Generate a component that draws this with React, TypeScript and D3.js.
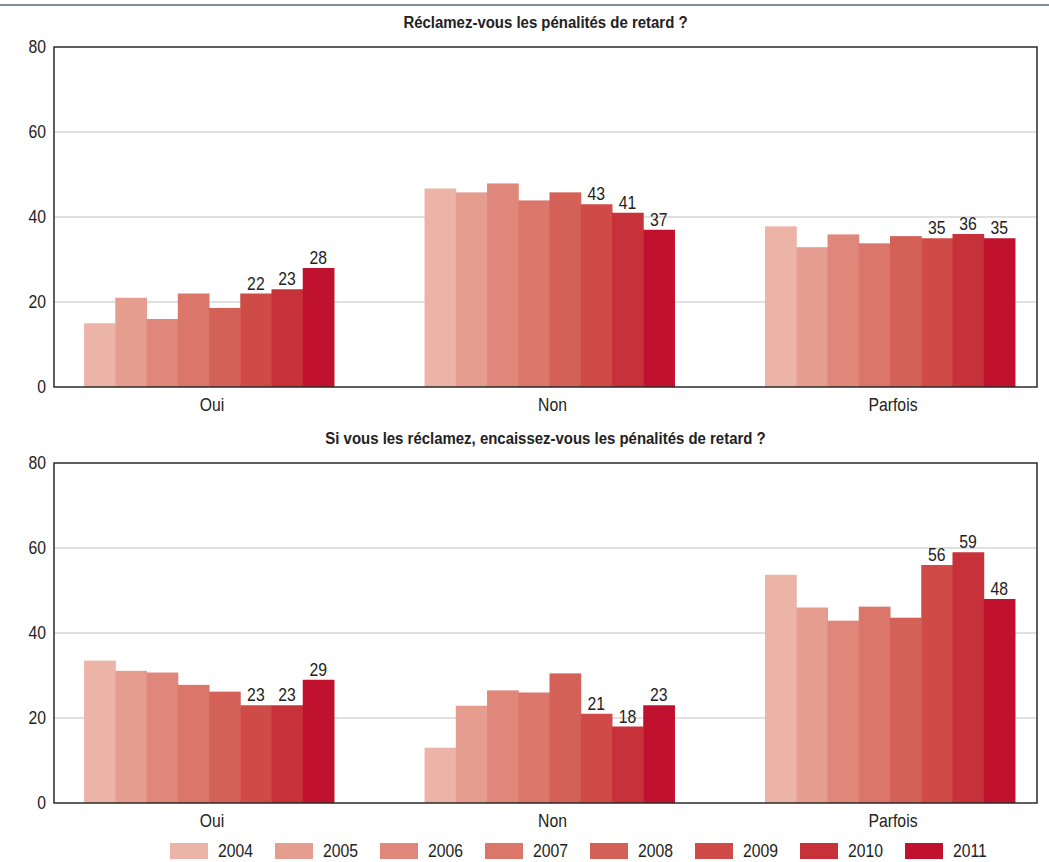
import React from "react";
import * as d3 from "d3";

// Survey years (one bar per year inside each answer group)
const years = ["2004", "2005", "2006", "2007", "2008", "2009", "2010", "2011"];
const yearColors = [
  "#ebb4a6",
  "#e59d8f",
  "#df877a",
  "#da766a",
  "#d46157",
  "#ce4b48",
  "#c6313a",
  "#c0122f",
];
const labelledYears = ["2009", "2010", "2011"];

// Answer categories
const answers = ["Oui", "Non", "Parfois"];

// Panel 1: "Réclamez-vous les pénalités de retard ?" (% by year)
const claimTitle = "Réclamez-vous les pénalités de retard ?";
const claimOui = [15, 21, 16, 22, 18.6, 22, 23, 28];
const claimNon = [46.7, 45.8, 47.9, 43.9, 45.8, 43, 41, 37];
const claimParfois = [37.8, 32.9, 35.9, 33.8, 35.5, 35, 36, 35];

// Panel 2: "Si vous les réclamez, encaissez-vous ..." (% by year)
const collectTitle =
  "Si vous les réclamez, encaissez-vous les pénalités de retard ?";
const collectOui = [33.5, 31.1, 30.7, 27.8, 26.2, 23, 23, 29];
const collectNon = [13, 22.9, 26.5, 26, 30.5, 21, 18, 23];
const collectParfois = [53.7, 46, 42.9, 46.2, 43.6, 56, 59, 48];

const yTicks = [0, 20, 40, 60, 80];

const FONT = "'Liberation Sans', Arial, sans-serif";
const CONDENSE = 0.875; // horizontal squeeze for a condensed look
const WIDTH = 1049;
const HEIGHT = 862;
const PLOT_LEFT = 54;
const PLOT_RIGHT = 1037;
const PANEL_HEIGHT = 340;

type LabelProps = {
  x: number;
  y: number;
  anchor?: "start" | "middle" | "end";
  size?: number;
  weight?: string;
  squeeze?: number;
  dy?: string;
  children: React.ReactNode;
};

// Condensed text: drawn at the anchor point, then squeezed horizontally
function Label({
  x,
  y,
  anchor = "start",
  size = 18,
  weight = "normal",
  squeeze = CONDENSE,
  dy,
  children,
}: LabelProps) {
  return (
    <text
      transform={`translate(${x},${y}) scale(${squeeze},1)`}
      textAnchor={anchor}
      dy={dy}
      fontFamily={FONT}
      fontSize={size}
      fontWeight={weight}
      fill="#222"
    >
      {children}
    </text>
  );
}

type PanelProps = {
  title: string;
  top: number;
  series: number[][];
};

function Panel({ title, top, series }: PanelProps) {
  const bottom = top + PANEL_HEIGHT;
  const y = d3.scaleLinear().domain([0, 80]).range([bottom, top]);
  const x0 = d3
    .scaleBand<string>()
    .domain(answers)
    .range([PLOT_LEFT, PLOT_RIGHT])
    .paddingInner(0.266)
    .paddingOuter(0.0765)
    .align(0.577);
  const x1 = d3
    .scaleBand<string>()
    .domain(years)
    .range([0, x0.bandwidth()])
    .padding(0);
  const fmt = d3.format(".0f");

  return (
    <g>
      <Label
        x={(PLOT_LEFT + PLOT_RIGHT) / 2}
        y={top - 19}
        anchor="middle"
        size={17}
        weight="bold"
        squeeze={0.88}
      >
        {title}
      </Label>
      {yTicks
        .filter((t) => t > 0 && t < 80)
        .map((t) => (
          <line
            key={`g${t}`}
            x1={PLOT_LEFT}
            x2={PLOT_RIGHT}
            y1={y(t)}
            y2={y(t)}
            stroke="#d6d6d6"
            strokeWidth={1.5}
          />
        ))}
      {yTicks.map((t) => (
        <Label key={`t${t}`} x={PLOT_LEFT - 8} y={y(t)} dy="0.35em" anchor="end">
          {t}
        </Label>
      ))}
      {answers.map((a, ai) => (
        <g key={a} transform={`translate(${x0(a)},0)`}>
          {years.map((yr, yi) => {
            const v = series[ai][yi];
            return (
              <rect
                key={yr}
                x={x1(yr)}
                y={y(v)}
                width={x1.bandwidth() + 0.5}
                height={bottom - y(v)}
                fill={yearColors[yi]}
              />
            );
          })}
          {years.map((yr, yi) =>
            labelledYears.includes(yr) ? (
              <Label
                key={`l${yr}`}
                x={(x1(yr) as number) + x1.bandwidth() / 2}
                y={y(series[ai][yi]) - 4}
                anchor="middle"
              >
                {fmt(series[ai][yi])}
              </Label>
            ) : null
          )}
          <Label x={x0.bandwidth() / 2 + 3} y={bottom + 24} anchor="middle">
            {a}
          </Label>
        </g>
      ))}
      <rect
        x={PLOT_LEFT}
        y={top}
        width={PLOT_RIGHT - PLOT_LEFT}
        height={PANEL_HEIGHT}
        fill="none"
        stroke="#2a2a2a"
        strokeWidth={1.5}
      />
    </g>
  );
}

export default function App() {
  return (
    <svg
      width={WIDTH}
      height={HEIGHT}
      style={{ position: "absolute", left: 0, top: 0, background: "#fff" }}
    >
      <rect x={0} y={0} width={WIDTH} height={HEIGHT} fill="#fff" />
      <line x1={0} x2={WIDTH} y1={5} y2={5} stroke="#7d8d98" strokeWidth={2} />
      <Panel title={claimTitle} top={47} series={[claimOui, claimNon, claimParfois]} />
      <Panel
        title={collectTitle}
        top={463}
        series={[collectOui, collectNon, collectParfois]}
      />
      {years.map((yr, i) => (
        <g key={yr} transform={`translate(${170 + i * 105},843)`}>
          <rect width={38} height={16} fill={yearColors[i]} />
          <Label x={48} y={14}>
            {yr}
          </Label>
        </g>
      ))}
    </svg>
  );
}
